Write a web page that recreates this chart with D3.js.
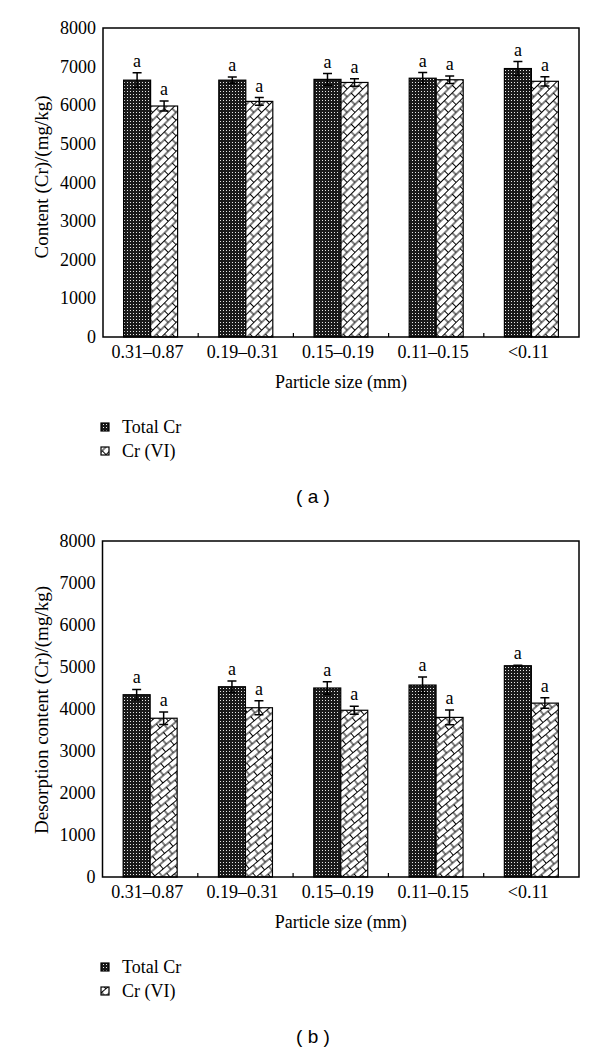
<!DOCTYPE html>
<html><head><meta charset="utf-8">
<script src="https://cdn.jsdelivr.net/npm/d3@7"></script>
<style>body{margin:0;background:#fff}svg{display:block}</style>
</head><body><svg id="c" width="600" height="1052"></svg>
<script>
const categories = ["0.31\u20130.87","0.19\u20130.31","0.15\u20130.19","0.11\u20130.15","<0.11"];
const seriesNames = ["Total Cr","Cr (VI)"];
const yTicks = [0,1000,2000,3000,4000,5000,6000,7000,8000];
// Panel (a): content
const totalA = [6650,6650,6670,6700,6950];
const totalAErr = [190,80,150,145,180];
const cr6A = [5980,6100,6590,6660,6620];
const cr6AErr = [130,100,95,95,120];
const lettersA = [["a","a"],["a","a"],["a","a"],["a","a"],["a","a"]];
// Panel (b): desorption content
const totalB = [4340,4530,4500,4570,5030];
const totalBErr = [125,135,150,190,10];
const cr6B = [3780,4030,3970,3800,4140];
const cr6BErr = [150,165,95,175,125];
const lettersB = [["a","a"],["a","a"],["a","a"],["a","a"],["a","a"]];

const svg = d3.select("#c");
const defs = svg.append("defs");
// dark dotted pattern
const pd = defs.append("pattern").attr("id","dark").attr("patternUnits","userSpaceOnUse").attr("width",3).attr("height",3);
pd.append("rect").attr("width",3).attr("height",3).attr("fill","#1a1a1a");
pd.append("rect").attr("x",1).attr("y",1).attr("width",1).attr("height",1).attr("fill","#e8e8e8");
// brick diagonal patterns
function brick(id, angle){
  const s = 11;
  const p = defs.append("pattern").attr("id",id).attr("patternUnits","userSpaceOnUse")
    .attr("width",s).attr("height",s).attr("patternTransform",`rotate(${angle})`);
  p.append("rect").attr("width",s).attr("height",s).attr("fill","#fff");
  p.append("path").attr("d",`M0,0.5H${s}M0,${s/2+0.5}H${s}M1,0.5V${s/2+0.5}M${s/2+1},${s/2+0.5}V${s+0.5}`)
    .attr("stroke","#000").attr("stroke-width",1).attr("fill","none");
}
brick("brickA",-45);
brick("brickB",-40);

const serif = "'Liberation Serif','Times New Roman',serif";

function panel(cfg){
  const {left,right,top,bottom,total,totalErr,cr6,cr6Err,letters,ytitle,caption,legendY,xLabelY,xTitleY,captionY,pat} = cfg;
  const g = svg.append("g");
  const x = d3.scaleBand().domain(categories).range([left,right]);
  const y = d3.scaleLinear().domain([0,8000]).range([bottom,top]);
  const bw = 27;
  const data = categories.map((c,i)=>({c,i,vals:[{v:total[i],e:totalErr[i],fill:"url(#dark)",k:0},{v:cr6[i],e:cr6Err[i],fill:`url(#${pat})`,k:1}]}));
  const grp = g.selectAll(".grp").data(data).join("g");
  const bars = grp.selectAll(".b").data(d=>d.vals.map(v=>({...v,c:d.c,i:d.i}))).join("g");
  const bx = d=> x(d.c)+x.bandwidth()/2 + (d.k===0?-bw:0);
  bars.append("rect").attr("x",bx).attr("y",d=>y(d.v)).attr("width",bw).attr("height",d=>bottom-y(d.v))
    .attr("fill",d=>d.fill).attr("stroke","#000").attr("stroke-width",1.2);
  const cx = d=> bx(d)+bw/2;
  bars.append("path").attr("d",d=>`M${cx(d)},${y(d.v-d.e)}V${y(d.v+d.e)}M${cx(d)-4.5},${y(d.v+d.e)}H${cx(d)+4.5}M${cx(d)-4.5},${y(d.v-d.e)}H${cx(d)+4.5}`)
    .attr("stroke","#000").attr("stroke-width",1.5).attr("fill","none");
  bars.append("text").attr("x",cx).attr("y",d=>y(d.v+d.e)-6).attr("text-anchor","middle")
    .attr("font-family",serif).attr("font-size",18).text(d=>letters[d.i][d.k]);
  // frame
  g.append("rect").attr("x",left).attr("y",top).attr("width",right-left).attr("height",bottom-top)
    .attr("fill","none").attr("stroke","#000").attr("stroke-width",1.5);
  // x separators
  const seps = categories.slice(1).map(c=>x(c));
  g.selectAll(".sep").data(seps).join("line").attr("x1",d=>d).attr("x2",d=>d).attr("y1",bottom).attr("y2",bottom-4)
    .attr("stroke","#000").attr("stroke-width",1.2);
  // y ticks labels
  g.selectAll(".yt").data(yTicks).join("text").attr("x",left-7).attr("y",d=>y(d)+6).attr("text-anchor","end")
    .attr("font-family",serif).attr("font-size",18).text(d=>d);
  // x labels
  g.selectAll(".xl").data(categories).join("text").attr("x",d=>x(d)+x.bandwidth()/2-3).attr("y",xLabelY).attr("text-anchor","middle")
    .attr("font-family",serif).attr("font-size",18).text(d=>d);
  g.append("text").attr("x",(left+right)/2).attr("y",xTitleY).attr("text-anchor","middle")
    .attr("font-family",serif).attr("font-size",18).text("Particle size (mm)");
  g.append("text").attr("transform",`translate(48,${cfg.ytitleY}) rotate(-90)`).attr("text-anchor","middle")
    .attr("font-family",serif).attr("font-size",19).text(ytitle);
  // legend
  const fills = ["url(#dark)",`url(#${pat})`];
  seriesNames.forEach((s,i)=>{
    g.append("rect").attr("x",101).attr("y",legendY+i*24-10).attr("width",8).attr("height",8)
      .attr("fill",fills[i]).attr("stroke","#000").attr("stroke-width",1.2);
    g.append("text").attr("x",122).attr("y",legendY+i*24).attr("font-family",serif).attr("font-size",18).text(s);
  });
  g.append("text").attr("x",313).attr("y",captionY).attr("text-anchor","middle")
    .attr("font-family","'Liberation Sans',Arial,sans-serif").attr("font-size",19).attr("xml:space","preserve").text(caption);
}

panel({left:103,right:579,top:28,bottom:337,total:totalA,totalErr:totalAErr,cr6:cr6A,cr6Err:cr6AErr,letters:lettersA,
  ytitle:"Content (Cr)/(mg/kg)",ytitleY:177,caption:"( a )",legendY:433,xLabelY:358,xTitleY:388,captionY:503,pat:"brickA"});
panel({left:102.5,right:579,top:541,bottom:877,total:totalB,totalErr:totalBErr,cr6:cr6B,cr6Err:cr6BErr,letters:lettersB,
  ytitle:"Desorption content (Cr)/(mg/kg)",ytitleY:710,caption:"( b )",legendY:973,xLabelY:898,xTitleY:928,captionY:1043,pat:"brickB"});
</script></body></html>
